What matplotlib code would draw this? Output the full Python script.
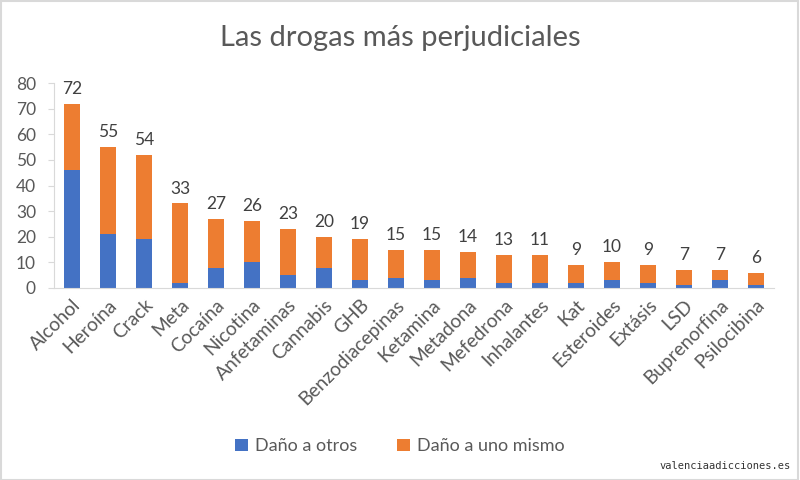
import matplotlib.pyplot as plt
from matplotlib.patches import Rectangle
import numpy as np

# drug names and the two harm components
drogas = ["Alcohol", "Heroína", "Crack", "Meta", "Cocaína", "Nicotina",
          "Anfetaminas", "Cannabis", "GHB", "Benzodiacepinas", "Ketamina",
          "Metadona", "Mefedrona", "Inhalantes", "Kat", "Esteroides",
          "Extásis", "LSD", "Buprenorfina", "Psilocibina"]
dano_otros = [46, 21, 19, 2, 8, 10, 5, 8, 3, 4, 3, 4, 2, 2, 2, 3, 2, 1, 3, 1]
dano_mismo = [26, 34, 33, 31, 19, 16, 18, 12, 16, 11, 12, 10, 11, 11, 7, 7, 7, 6, 4, 5]
# labels printed above each bar
etiquetas = [72, 55, 54, 33, 27, 26, 23, 20, 19, 15, 15, 14, 13, 11, 9, 10, 9, 7, 7, 6]

AZUL = "#4472C4"
NARANJA = "#ED7D31"
GRIS = "#595959"
FONT = "Lato"

plt.rcParams['font.family'] = [FONT, 'DejaVu Sans']

fig = plt.figure(figsize=(8, 4.8), dpi=100)
ax = fig.add_axes([0.0675, 0.4, 0.9, 0.427])

x = np.arange(len(drogas))
ax.bar(x, dano_otros, width=0.42, color=AZUL, label="Daño a otros")
ax.bar(x, dano_mismo, width=0.42, bottom=dano_otros, color=NARANJA,
       label="Daño a uno mismo")

totales = [a + b for a, b in zip(dano_otros, dano_mismo)]
for xi, top, lab in zip(x, totales, etiquetas):
    ax.annotate(str(lab), (xi, top), xytext=(0, 5), textcoords="offset points",
                ha="center", va="bottom", fontsize=12.5, color="#404040")

ax.set_xlim(-0.5, len(drogas) - 0.5)
ax.set_ylim(0, 80)
ax.set_yticks(range(0, 81, 10))
ax.set_xticks(x)
ax.set_xticklabels(drogas, rotation=45, ha="right", rotation_mode="anchor",
                   fontsize=13.8, color=GRIS)
ax.tick_params(axis="x", length=0, pad=6)
ax.tick_params(axis="y", length=4, color="#d9d9d9", labelsize=12.5,
               labelcolor=GRIS, pad=9)

for s in ["top", "right"]:
    ax.spines[s].set_visible(False)
ax.spines["left"].set_color("#d9d9d9")
ax.spines["bottom"].set_color("#d9d9d9")

fig.text(0.5, 0.92, "Las drogas más perjudiciales", ha="center", va="center",
         fontsize=21, color=GRIS)

fig.legend(loc="center", bbox_to_anchor=(0.5, 0.07), ncol=2, frameon=False,
           fontsize=13, handlelength=0.7, handleheight=0.7,
           columnspacing=2.2, handletextpad=0.4, labelcolor=GRIS)

fig.text(0.988, 0.03, "valenciaadicciones.es", ha="right", va="center",
         fontsize=7.5, family="DejaVu Sans Mono", color="#333333")

fig.patches.append(Rectangle((0.001, 0.001), 0.997, 0.996, transform=fig.transFigure,
                             fill=False, edgecolor="#d9d9d9", linewidth=1.5))

fig.savefig("out.png", dpi=100)
